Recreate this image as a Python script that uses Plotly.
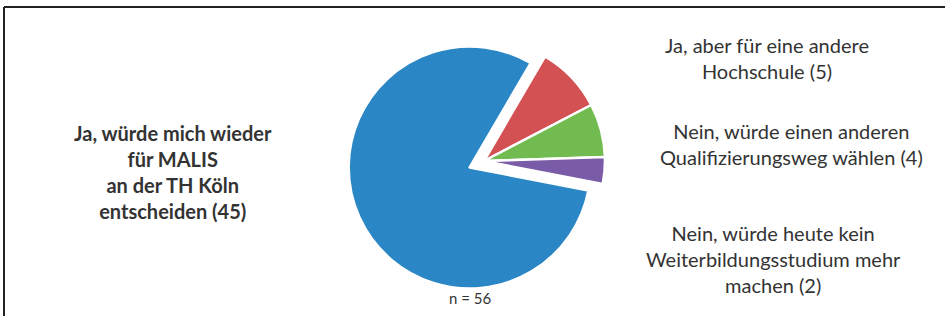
import plotly.graph_objects as go

# Data
categories = [
    "Ja, würde mich wieder für MALIS an der TH Köln entscheiden",
    "Ja, aber für eine andere Hochschule",
    "Nein, würde einen anderen Qualifizierungsweg wählen",
    "Nein, würde heute kein Weiterbildungsstudium mehr machen",
]
values = [45, 5, 4, 2]
label_texts = [
    "<b>Ja, würde mich wieder<br>für MALIS<br>an der TH Köln<br>entscheiden (45)</b>",
    "Ja, aber für eine andere<br>Hochschule (5)",
    "Nein, würde einen anderen<br>Qualifizierungsweg wählen (4)",
    "Nein, würde heute kein<br>Weiterbildungsstudium mehr<br>machen (2)",
]
n_text = "n = 56"

colors = ["#2a86c4", "#d35152", "#72bb50", "#7a5ba7"]
pulls = [0.13, 0, 0, 0]

W, H = 945, 316

fig = go.Figure(go.Pie(
    labels=categories,
    values=values,
    sort=False,
    direction="clockwise",
    rotation=101,
    pull=pulls,
    marker=dict(colors=colors, line=dict(color="white", width=2.5)),
    textinfo="none",
    showlegend=False,
    domain=dict(x=[0.3675, 0.6568], y=[0.0579, 0.9231]),
))

font_family = "Lato, 'Open Sans', sans-serif"
label_pos = [(173, 172), (767, 58), (791, 144), (773, 259)]
for txt, (px, py) in zip(label_texts, label_pos):
    fig.add_annotation(
        x=px / W, y=1 - py / H, xref="paper", yref="paper",
        text=txt, showarrow=False, align="center",
        xanchor="center", yanchor="middle",
        font=dict(family=font_family, size=20, color="#333333"),
    )

fig.add_annotation(
    x=470 / W, y=1 - 298 / H, xref="paper", yref="paper",
    text=n_text, showarrow=False, xanchor="center", yanchor="middle",
    font=dict(family=font_family, size=15, color="#333333"),
)

# frame lines (top and left)
fig.add_shape(type="line", xref="paper", yref="paper",
              x0=4 / W, x1=1, y0=1 - 7 / H, y1=1 - 7 / H,
              line=dict(color="#222222", width=2))
fig.add_shape(type="line", xref="paper", yref="paper",
              x0=4 / W, x1=4 / W, y0=0, y1=1 - 7 / H,
              line=dict(color="#222222", width=2))

fig.update_layout(
    width=W, height=H,
    margin=dict(l=0, r=0, t=0, b=0),
    paper_bgcolor="white",
    plot_bgcolor="white",
)

fig.write_html(
    "out.html",
    config={"displayModeBar": False},
    post_script="document.body.style.margin='0px';document.body.style.overflow='hidden';",
)
